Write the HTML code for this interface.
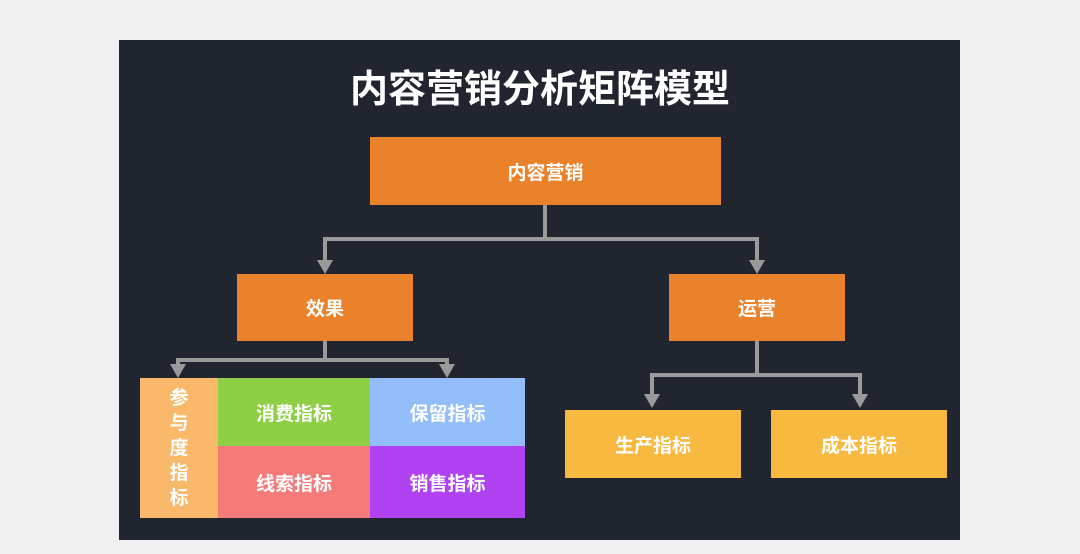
<!DOCTYPE html>
<html><head><meta charset="utf-8"><style>
body{margin:0;width:1080px;height:554px;background:#f0f0f0;position:relative;overflow:hidden;font-family:"Liberation Sans","Noto Sans CJK SC",sans-serif;}
.p{position:absolute;left:119px;top:40px;width:841px;height:500px;background:#21252f;}
.b{position:absolute;display:flex;align-items:center;justify-content:center;color:#fff;font-weight:bold;font-size:19px;}
.t{position:absolute;left:300px;top:58px;width:480px;text-align:center;color:#fff;font-size:38px;font-weight:bold;}
</style></head><body>
<div class="p"></div>
<div class="t">内容营销分析矩阵模型</div>
<svg style="position:absolute;left:0;top:0" width="1080" height="554">
<g stroke="#9a9a9a" stroke-width="4" fill="none">
<path d="M545 205V239M323 239H759M325 237V262M757 237V262"/>
<path d="M325 341V360M176 360H449M178 358V366M447 358V366"/>
<path d="M757 341V375M650 375H862M652 373V396M860 373V396"/>
</g>
<g fill="#9a9a9a">
<path d="M317 260H333L325 274Z"/><path d="M749 260H765L757 274Z"/>
<path d="M170 364H186L178 378Z"/><path d="M439 364H455L447 378Z"/>
<path d="M644 394H660L652 408Z"/><path d="M852 394H868L860 408Z"/>
</g></svg>
<div class="b" style="left:370px;top:137px;width:351px;height:68px;background:#ea812b">内容营销</div>
<div class="b" style="left:237px;top:274px;width:176px;height:67px;background:#ea812b">效果</div>
<div class="b" style="left:669px;top:274px;width:176px;height:67px;background:#ea812b">运营</div>
<div class="b" style="left:140px;top:378px;width:78px;height:140px;background:#f9b86a;line-height:25px;text-align:center">参<br>与<br>度<br>指<br>标</div>
<div class="b" style="left:218px;top:378px;width:152px;height:68px;background:#8fcf45">消费指标</div>
<div class="b" style="left:370px;top:378px;width:155px;height:68px;background:#93befa">保留指标</div>
<div class="b" style="left:218px;top:446px;width:152px;height:72px;background:#f57b7b">线索指标</div>
<div class="b" style="left:370px;top:446px;width:155px;height:72px;background:#b042f2">销售指标</div>
<div class="b" style="left:565px;top:410px;width:176px;height:68px;background:#f7b940">生产指标</div>
<div class="b" style="left:771px;top:410px;width:176px;height:68px;background:#f7b940">成本指标</div>
</body></html>
